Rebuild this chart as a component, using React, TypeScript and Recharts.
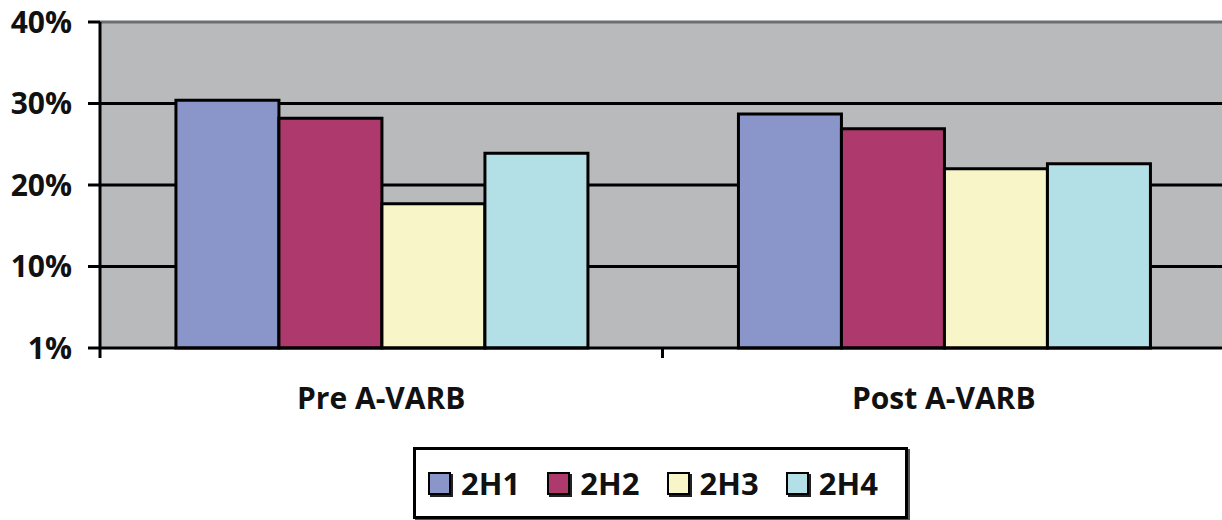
import { BarChart, Bar, XAxis, YAxis, CartesianGrid, ReferenceLine } from 'recharts';

const groups = ['Pre A-VARB', 'Post A-VARB'];
const seriesNames = ['2H1', '2H2', '2H3', '2H4'];
const seriesColors = ['#8a95c9', '#ae396c', '#f8f5c8', '#b3e0e7'];
const h1 = [30.4, 28.7];
const h2 = [28.2, 26.9];
const h3 = [17.7, 22.0];
const h4 = [23.9, 22.6];
const yTicks = [0, 10, 20, 30, 40];
const yTickLabels = ['1%', '10%', '20%', '30%', '40%'];

const seriesValues = [h1, h2, h3, h4];
const data = groups.map((g, i) => {
  const row: Record<string, string | number> = { group: g };
  seriesNames.forEach((s, k) => {
    row[s] = seriesValues[k][i];
  });
  return row;
});

const FONT = '"Open Sans", "DejaVu Sans", sans-serif';

// category label plus short separator ticks on the band edges
const GroupTick = (props: any) => {
  const { x, y, payload, index } = props;
  const half = payload?.offset ?? 0;
  return (
    <g>
      {index === 0 && (
        <line x1={x - half} x2={x - half} y1={y} y2={y + 10} stroke="#000" strokeWidth={3} />
      )}
      <line x1={x + half} x2={x + half} y1={y} y2={y + 10} stroke="#000" strokeWidth={3} />
      <text
        x={x}
        y={y + 61}
        textAnchor="middle"
        fontFamily={FONT}
        fontWeight={700}
        fontSize={30}
        fill="#111"
      >
        {payload.value}
      </text>
    </g>
  );
};

export default function App() {
  return (
    <div
      style={{
        position: 'absolute',
        left: 0,
        top: 0,
        width: 1222,
        height: 520,
        overflow: 'hidden',
        background: '#fff',
      }}
    >
      <BarChart
        width={1225}
        height={520}
        data={data}
        margin={{ top: 22, right: 0, bottom: 0, left: 0 }}
        barCategoryGap="13.5%"
        barGap={0}
      >
        <CartesianGrid
          vertical={false}
          horizontalValues={[10, 20, 30]}
          stroke="#000"
          strokeWidth={3}
          fill="#b8babc"
          fillOpacity={1}
        />
        <ReferenceLine y={40} stroke="#6c6f72" strokeWidth={3} />
        <XAxis
          dataKey="group"
          height={172}
          tickLine={false}
          tickSize={0}
          tickMargin={0}
          axisLine={{ stroke: '#000', strokeWidth: 3 }}
          tick={<GroupTick />}
          interval={0}
        />
        <YAxis
          width={100}
          domain={[0, 40]}
          ticks={yTicks}
          interval={0}
          tickSize={12}
          tickMargin={16}
          tickFormatter={(v: number) => yTickLabels[yTicks.indexOf(v)]}
          tick={{ fontFamily: FONT, fontWeight: 700, fontSize: 30, fill: '#111' }}
          tickLine={{ stroke: '#000', strokeWidth: 3 }}
          axisLine={{ stroke: '#000', strokeWidth: 3 }}
        />
        {seriesNames.map((s, k) => (
          <Bar
            key={s}
            dataKey={s}
            fill={seriesColors[k]}
            stroke="#000"
            strokeWidth={3}
            isAnimationActive={false}
          />
        ))}
      </BarChart>

      <div
        style={{
          position: 'absolute',
          left: 413,
          top: 447,
          width: 477,
          height: 66,
          border: '3px solid #000',
          boxShadow: '2px 2px 0 #555',
          background: '#fff',
          display: 'flex',
          alignItems: 'center',
          paddingLeft: 12,
          boxSizing: 'content-box',
        }}
      >
        {seriesNames.map((s, k) => (
          <div
            key={s}
            style={{ display: 'flex', alignItems: 'center', width: 120, fontFamily: FONT }}
          >
            <span
              style={{
                display: 'inline-block',
                width: 19,
                height: 19,
                background: seriesColors[k],
                border: '2px solid #000',
                boxShadow: '2px 2px 0 #222',
                marginRight: 10,
              }}
            />
            <span style={{ fontSize: 31, fontWeight: 700, color: '#111', lineHeight: 1 }}>{s}</span>
          </div>
        ))}
      </div>
    </div>
  );
}
